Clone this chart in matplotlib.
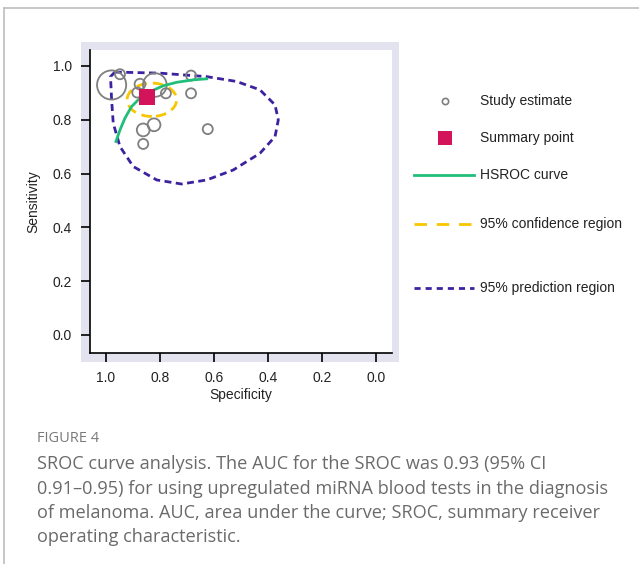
import matplotlib
matplotlib.use("Agg")
import matplotlib.pyplot as plt
from matplotlib.patches import Rectangle, Ellipse, PathPatch
from matplotlib.path import Path
from matplotlib.lines import Line2D
import numpy as np

W, H = 639, 564
DPI = 100

# ---- data ----
study_spec = [0.979, 0.948, 0.874, 0.884, 0.819, 0.778, 0.685, 0.685, 0.623, 0.822, 0.862, 0.862]
study_sens = [0.929, 0.969, 0.932, 0.901, 0.929, 0.898, 0.964, 0.898, 0.765, 0.781, 0.762, 0.710]
study_size = [440, 52, 60, 52, 290, 52, 52, 52, 52, 85, 85, 52]

summary_spec = 0.849
summary_sens = 0.886

hsroc_spec = [0.963, 0.948, 0.930, 0.905, 0.874, 0.837, 0.788, 0.738, 0.677, 0.627]
hsroc_sens = [0.719, 0.762, 0.805, 0.849, 0.880, 0.904, 0.926, 0.939, 0.948, 0.952]

conf_center = (0.830, 0.874)
conf_width = 0.183
conf_height = 0.124

pred_spec = [0.967, 0.800, 0.627, 0.516, 0.430, 0.374, 0.362, 0.374, 0.430, 0.529,
             0.627, 0.720, 0.812, 0.899, 0.948, 0.973, 0.979, 0.983]
pred_sens = [0.977, 0.973, 0.960, 0.942, 0.911, 0.855, 0.799, 0.737, 0.675, 0.613,
             0.576, 0.561, 0.576, 0.626, 0.700, 0.787, 0.874, 0.960]

ticks = [1.0, 0.8, 0.6, 0.4, 0.2, 0.0]
tick_labels = ["1.0", "0.8", "0.6", "0.4", "0.2", "0.0"]

legend_labels = ["Study estimate", "Summary point", "HSROC curve",
                 "95% confidence region", "95% prediction region"]

caption_title = "FIGURE 4"
caption_lines = [
    "SROC curve analysis. The AUC for the SROC was 0.93 (95% CI",
    "0.91\u20130.95) for using upregulated miRNA blood tests in the diagnosis",
    "of melanoma. AUC, area under the curve; SROC, summary receiver",
    "operating characteristic.",
]

# ---- colors ----
C_GRAY = "#7f7f7f"
C_SUM = "#d4145a"
C_GREEN = "#1fbf7a"
C_YELLOW = "#f7c600"
C_PURPLE = "#3d22a0"
C_FRAME = "#e3e3f0"

plt.rcParams['font.family'] = ['Liberation Sans', 'DejaVu Sans']

fig = plt.figure(figsize=(W / DPI, H / DPI), dpi=DPI)


def fx(x):
    return x / W


def fy(y):
    return 1 - y / H


# outer page border
fig.add_artist(Line2D([fx(4), 1.0], [fy(8), fy(8)], color="#bdbdbd", lw=1.2))
fig.add_artist(Line2D([fx(4), fx(4)], [fy(8), 0.0], color="#bdbdbd", lw=1.2))

# lavender frame
fig.add_artist(Rectangle((fx(81), fy(362)), fx(399) - fx(81), fy(42) - fy(362),
                         transform=fig.transFigure, facecolor=C_FRAME,
                         edgecolor="none", zorder=0))

ax = fig.add_axes([fx(90), fy(353), fx(392) - fx(90), fy(50) - fy(353)])
ax.set_facecolor("white")
ax.set_xlim(1.059, -0.059)
ax.set_ylim(-0.067, 1.059)
for s in ["top", "right"]:
    ax.spines[s].set_visible(False)
for s in ["left", "bottom"]:
    ax.spines[s].set_linewidth(1.2)
    ax.spines[s].set_color("black")
ax.set_xticks(ticks)
ax.set_xticklabels(tick_labels)
ax.set_yticks(ticks)
ax.set_yticklabels(tick_labels)
ax.tick_params(direction="out", length=6.5, width=1.2, labelsize=10, pad=6.5,
               color="black", labelcolor="#222222")
ax.set_xlabel("Specificity", fontsize=10, labelpad=2, color="#222222")
ax.set_ylabel("Sensitivity", fontsize=10, labelpad=9, color="#222222")

# prediction region
verts = list(zip(pred_spec, pred_sens)) + [(pred_spec[0], pred_sens[0])]
codes = [Path.MOVETO] + [Path.LINETO] * (len(verts) - 2) + [Path.CLOSEPOLY]
ax.add_patch(PathPatch(Path(verts, codes), facecolor="none", edgecolor=C_PURPLE,
                       lw=2.0, linestyle=(0, (2.5, 1.6)), zorder=3))

# confidence region
ax.add_patch(Ellipse(conf_center, conf_width, conf_height, facecolor="none",
                     edgecolor=C_YELLOW, lw=2.0, linestyle=(0, (3.8, 2.2)), zorder=3))

# studies
ax.scatter(study_spec, study_sens, s=study_size, facecolors="none",
           edgecolors=C_GRAY, linewidths=1.3, zorder=4)

# HSROC
ax.plot(hsroc_spec, hsroc_sens, color=C_GREEN, lw=2.0, zorder=5)

# summary
ax.scatter([summary_spec], [summary_sens], marker="s", s=120, color=C_SUM,
           zorder=6, linewidths=0)

# ---- legend (manual, figure coords) ----
leg_y = [101, 138, 175, 224, 288]
fig.add_artist(Line2D([fx(445)], [fy(leg_y[0])], marker="o", markersize=4.5,
                      markerfacecolor="none", markeredgecolor=C_GRAY,
                      markeredgewidth=1.2, linestyle="none"))
fig.add_artist(Line2D([fx(445)], [fy(leg_y[1])], marker="s", markersize=10,
                      color=C_SUM, markeredgewidth=0, linestyle="none"))
fig.add_artist(Line2D([fx(414), fx(474)], [fy(leg_y[2])] * 2, color=C_GREEN, lw=2.0))
fig.add_artist(Line2D([fx(414), fx(474)], [fy(leg_y[3])] * 2, color=C_YELLOW,
                      lw=2.0, linestyle=(0, (4.5, 3.5))))
fig.add_artist(Line2D([fx(414), fx(474)], [fy(leg_y[4])] * 2, color=C_PURPLE,
                      lw=2.0, linestyle=(0, (2.2, 1.8))))
for lab, y in zip(legend_labels, leg_y):
    fig.text(fx(480), fy(y), lab, fontsize=10, va="center", ha="left",
             color="#222222")

# ---- caption ----
cap_font = ['Open Sans', 'DejaVu Sans']
fig.text(fx(37), fy(438), caption_title, fontsize=10.5, va="center", ha="left",
         color="#7a7a7a", family=cap_font)
for i, line in enumerate(caption_lines):
    fig.text(fx(37), fy(464 + 24.5 * i), line, fontsize=13.1, va="center",
             ha="left", color="#6a6a6a", family=cap_font)

fig.savefig("out.png", dpi=DPI)
